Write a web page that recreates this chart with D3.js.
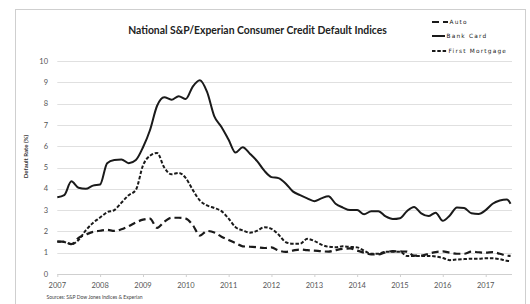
<!DOCTYPE html>
<html><head><meta charset="utf-8">
<script src="https://cdn.jsdelivr.net/npm/d3@7"></script>
<style>
html,body{margin:0;padding:0;background:#fff;}
svg{display:block;}
</style></head>
<body>
<svg id="c" width="530" height="304"></svg>
<script>
const months = ["2007-01","2007-03","2007-05","2007-07","2007-09","2007-11",
"2008-01","2008-03","2008-05","2008-07","2008-09","2008-11",
"2009-01","2009-03","2009-05","2009-07","2009-09","2009-11",
"2010-01","2010-03","2010-05","2010-07","2010-09","2010-11",
"2011-01","2011-03","2011-05","2011-07","2011-09","2011-11",
"2012-01","2012-03","2012-05","2012-07","2012-09","2012-11",
"2013-01","2013-03","2013-05","2013-07","2013-09","2013-11",
"2014-01","2014-03","2014-05","2014-07","2014-09","2014-11",
"2015-01","2015-03","2015-05","2015-07","2015-09","2015-11",
"2016-01","2016-03","2016-05","2016-07","2016-09","2016-11",
"2017-01","2017-03","2017-05","2017-07","2017-08"];

const bankCard = [3.6,3.7,4.35,4.05,4.0,4.15,
4.2,5.2,5.35,5.38,5.2,5.35,
5.95,6.75,7.9,8.3,8.18,8.35,
8.22,8.8,9.1,8.55,7.4,6.9,
6.3,5.7,5.95,5.65,5.3,4.85,
4.55,4.5,4.25,3.88,3.7,3.55,
3.42,3.55,3.65,3.3,3.12,3.0,
3.0,2.8,2.95,2.95,2.7,2.58,
2.62,2.95,3.15,2.85,2.72,2.88,
2.5,2.75,3.12,3.1,2.85,2.82,
3.0,3.3,3.45,3.5,3.3];

const firstMortgage = [1.52,1.5,1.4,1.6,2.05,2.4,
2.65,2.9,3.0,3.35,3.7,3.95,
5.1,5.55,5.68,5.0,4.68,4.75,
4.5,3.95,3.45,3.22,3.1,2.95,
2.6,2.2,2.05,1.94,2.03,2.2,
2.12,1.85,1.5,1.42,1.42,1.65,
1.55,1.38,1.28,1.26,1.3,1.27,
1.25,1.1,0.95,0.95,1.05,1.05,
1.05,0.85,0.85,0.85,0.85,0.82,
0.75,0.65,0.68,0.7,0.72,0.72,
0.74,0.74,0.7,0.62,0.6];

const auto = [1.52,1.52,1.4,1.7,1.85,1.98,
2.03,2.07,2.02,2.1,2.25,2.42,
2.55,2.6,2.17,2.45,2.64,2.64,
2.6,2.3,1.8,2.02,1.95,1.75,
1.6,1.45,1.3,1.28,1.26,1.22,
1.25,1.1,1.04,1.1,1.15,1.12,
1.1,1.07,1.05,1.12,1.18,1.2,
1.1,1.0,0.92,0.92,1.02,1.07,
1.06,1.05,0.86,0.86,0.95,1.03,
1.06,1.0,0.95,0.95,1.05,1.02,
1.0,1.03,0.95,0.86,0.85];

const yTicks = [0,1,2,3,4,5,6,7,8,9,10];
const yearTicks = ["2007","2008","2009","2010","2011","2012","2013","2014","2015","2016","2017"];
const legendLabels = ["Auto","Bank Card","First Mortgage"];
const titleText = "National S&P/Experian Consumer Credit Default Indices";
const yTitle = "Default Rate (%)";
const sourceText = "Sources: S&P Dow Jones Indices & Experian";

const parseM = d3.timeParse("%Y-%m");
const parseY = d3.timeParse("%Y");
const dates = months.map(parseM);

const svg = d3.select("#c");
const x = d3.scaleTime().domain([parseY("2007"), parseY("2017")]).range([57.3, 485.7]);
const y = d3.scaleLinear().domain([0, 10]).range([274, 61]);
const xRight = 512;

// frame
svg.append("rect").attr("x",15.5).attr("y",9.5).attr("width",510).attr("height",300)
  .attr("fill","#fff").attr("stroke","#cfcfcf").attr("stroke-width",1);

// gridlines
svg.append("g").selectAll("line").data(yTicks).join("line")
  .attr("x1", x.range()[0]).attr("x2", xRight)
  .attr("y1", d => Math.round(y(d)) + 0.5).attr("y2", d => Math.round(y(d)) + 0.5)
  .attr("stroke", d => d === 0 ? "#cfcfcf" : "#e0e0e0").attr("stroke-width", 1);

// y labels
svg.append("g").selectAll("text").data(yTicks).join("text")
  .attr("x", 48).attr("y", d => y(d)).attr("dy","0.35em")
  .attr("text-anchor","end").attr("font-family","Lato, 'Liberation Sans', sans-serif")
  .attr("font-size", 7.5).attr("fill","#555").text(d => d);

// x ticks and labels
const gx = svg.append("g");
gx.selectAll("line").data(yearTicks).join("line")
  .attr("x1", d => x(parseY(d)) + 0.5).attr("x2", d => x(parseY(d)) + 0.5)
  .attr("y1", 274).attr("y2", 277).attr("stroke","#d0d0d0");
gx.selectAll("text").data(yearTicks).join("text")
  .attr("x", d => x(parseY(d))).attr("y", 287.5)
  .attr("text-anchor","middle").attr("font-family","Lato, 'Liberation Sans', sans-serif")
  .attr("font-size", 7.5).attr("fill","#555").text(d => d);

// series
const series = [
  {name:"Auto", values:auto, dash:"7,4", w:2.2},
  {name:"Bank Card", values:bankCard, dash:null, w:2},
  {name:"First Mortgage", values:firstMortgage, dash:"3.5,1.8", w:2}
];
const line = d3.line().x((d,i) => x(dates[i])).y(d => y(d)).curve(d3.curveMonotoneX);
series.forEach(s => {
  svg.append("path").datum(s.values).attr("d", line)
    .attr("fill","none").attr("stroke","#1a1a1a").attr("stroke-width", s.w)
    .attr("stroke-dasharray", s.dash).attr("stroke-linejoin","round");
});

// title
const t = svg.append("text").attr("x", 257.5).attr("y", 33.5).attr("text-anchor","middle")
  .attr("font-family","Lato, 'Open Sans', sans-serif").attr("font-weight","bold")
  .attr("font-size", 10).attr("fill","#222").text(titleText);
const tl = t.node().getComputedTextLength();
t.attr("font-size", 10 * 259 / tl);

// legend
const legY = [22, 36, 51];
const leg = svg.append("g");
legendLabels.forEach((name, i) => {
  const s = series.find(d => d.name === name);
  let x1 = 432, x2 = name === "Auto" ? 448 : (name === "Bank Card" ? 445 : 447);
  leg.append("line").attr("x1", x1).attr("x2", x2).attr("y1", legY[i]).attr("y2", legY[i])
    .attr("stroke","#1a1a1a").attr("stroke-width", s.w).attr("stroke-dasharray", s.dash);
  leg.append("text").attr("x", x2 + 1.5).attr("y", legY[i]).attr("dy","0.35em")
    .attr("font-family","'DejaVu Sans', sans-serif").attr("font-size", 5.8)
    .attr("letter-spacing", 1.2).attr("fill","#222").text(name);
});

// y title
svg.append("text").attr("transform","translate(28,156.5) rotate(-90)")
  .attr("text-anchor","middle").attr("font-family","Lato, 'Liberation Sans', sans-serif")
  .attr("font-weight","bold").attr("font-size", 6).attr("fill","#333").text(yTitle);

// source
svg.append("text").attr("x", 46.5).attr("y", 299)
  .attr("font-family","Lato, 'Liberation Sans', sans-serif")
  .attr("font-size", 5).attr("fill","#444").text(sourceText);
</script>
</body></html>
